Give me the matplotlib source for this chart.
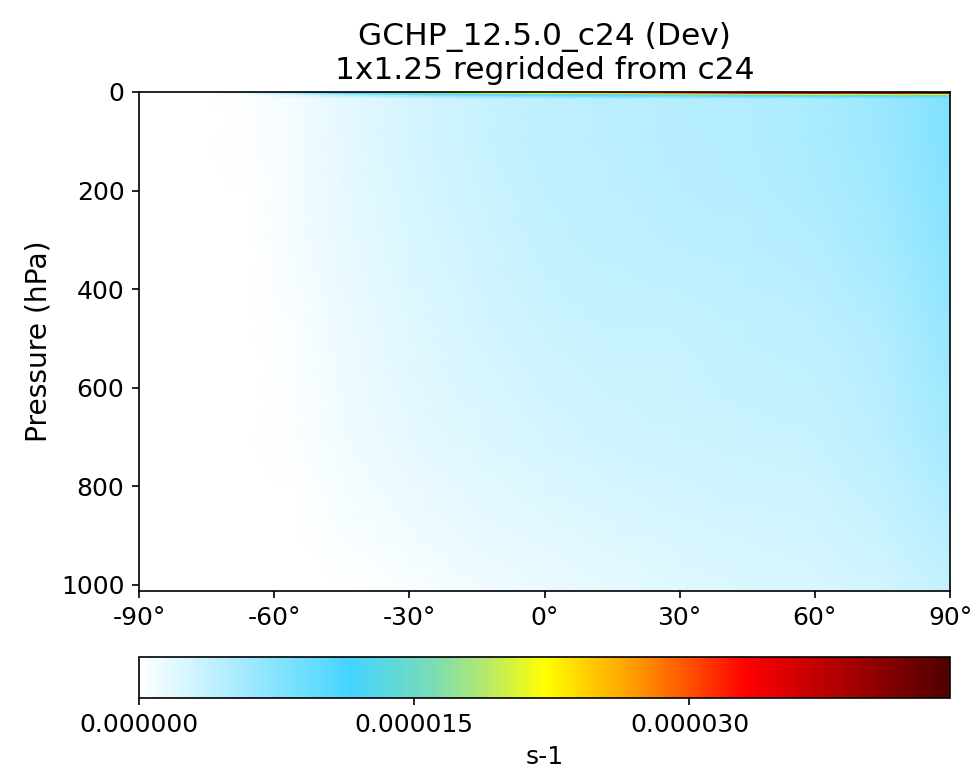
import numpy as np
import matplotlib
matplotlib.use("Agg")
from matplotlib import pyplot as plt
from matplotlib.colors import LinearSegmentedColormap

# zonal mean field, units 1e-6 s-1
lats = [-90, -75, -65, -55, -45, -30, -15, 0, 15, 30, 45, 60, 75, 90]
pres = [0, 3.5, 5.5, 8, 14, 100, 300, 500, 700, 900, 1013]
vals_p0 = [0, 0, 3, 8, 11, 18, 22, 24, 26, 30, 36, 40, 43, 44.2]
vals_p3 = [0, 0, 2, 6, 10, 15, 20, 22, 24, 28, 33, 38, 40, 42]
vals_p5 = [0, 0, 1, 3, 6, 9, 12, 14, 16, 18, 20, 22, 22, 22]
vals_p8 = [0, 0, 0.5, 2, 4, 6, 8, 9, 10, 10, 11, 11, 12, 14]
vals_p14 = [0, 0, 0.2, 0.8, 1.6, 2.6, 3.4, 4.0, 4.3, 4.5, 4.8, 5.2, 6.2, 7.8]
vals_p100 = [0, 0, 0.2, 0.8, 1.6, 2.6, 3.4, 4.0, 4.3, 4.5, 4.8, 5.2, 6.2, 7.8]
vals_p300 = [0, 0, 0.15, 0.7, 1.5, 2.4, 3.1, 3.7, 4.0, 4.2, 4.4, 4.7, 5.6, 7.2]
vals_p500 = [0, 0, 0.1, 0.5, 1.2, 2.0, 2.7, 3.2, 3.5, 3.6, 3.8, 4.0, 4.8, 6.5]
vals_p700 = [0, 0, 0.05, 0.3, 0.9, 1.6, 2.2, 2.7, 3.0, 3.2, 3.3, 3.5, 4.2, 5.6]
vals_p900 = [0, 0, 0, 0.1, 0.4, 0.9, 1.4, 1.8, 2.2, 2.5, 2.7, 2.9, 3.4, 4.4]
vals_p1013 = [0, 0, 0, 0, 0.15, 0.5, 0.9, 1.3, 1.7, 2.0, 2.3, 2.5, 2.9, 3.7]
vmax = 44.2e-6

cbar_ticks = [0, 1.5e-5, 3.0e-5]
xticks = [-90, -60, -30, 0, 30, 60, 90]
yticks = [0, 200, 400, 600, 800, 1000]

data = np.array([vals_p0, vals_p3, vals_p5, vals_p8, vals_p14, vals_p100,
                 vals_p300, vals_p500, vals_p700, vals_p900, vals_p1013]) * 1e-6

cmap = LinearSegmentedColormap.from_list("WhGrYlRd", [
    (0.0, "#ffffff"), (0.26, "#44d4ff"), (0.36, "#78dcb8"), (0.43, "#b8ea68"),
    (0.5, "#ffff00"), (0.62, "#ff9200"), (0.75, "#ff0000"), (1.0, "#500000")])

fig = plt.figure(figsize=(976 / 150, 777 / 150), dpi=150)
ax = fig.add_axes([0.1424, 0.2394, 0.8310, 0.6422])
X, Y = np.meshgrid(lats, pres)
mesh = ax.pcolormesh(X, Y, data, cmap=cmap, vmin=0, vmax=vmax, shading="gouraud")
ax.set_xlim(-90, 90)
ax.set_ylim(1013, 0)
ax.set_xticks(xticks)
ax.set_xticklabels([f"{t}°" for t in xticks])
ax.set_yticks(yticks)
ax.tick_params(labelsize=12)
ax.set_ylabel("Pressure (hPa)", fontsize=13.5)
ax.set_title("GCHP_12.5.0_c24 (Dev)\n1x1.25 regridded from c24", fontsize=15)

cax = fig.add_axes([0.1424, 0.1017, 0.8310, 0.0528])
cb = fig.colorbar(mesh, cax=cax, orientation="horizontal")
cb.set_ticks(cbar_ticks)
cb.set_ticklabels([f"{t:.6f}" for t in cbar_ticks])
cb.ax.tick_params(labelsize=12)
cb.set_label("s-1", fontsize=12)

plt.savefig("out.png", dpi=150)
